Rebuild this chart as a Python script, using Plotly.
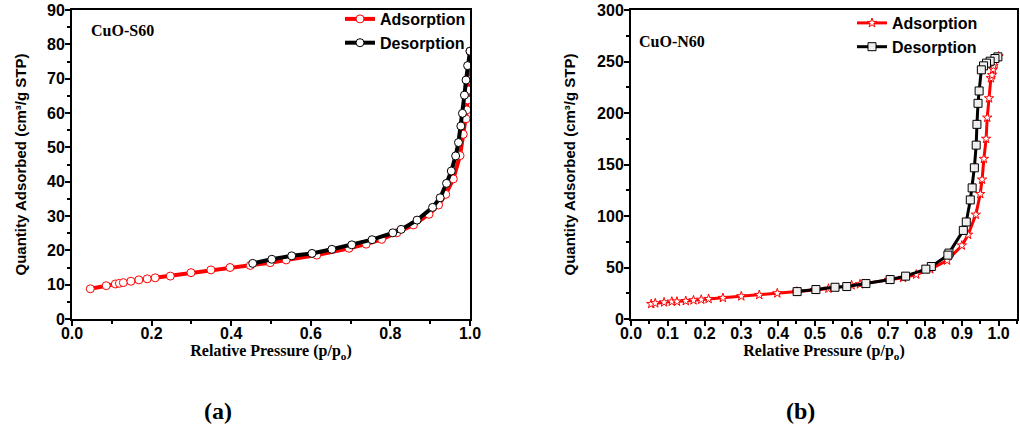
import plotly.graph_objects as go

# Panel (a) CuO-S60
s60_ads_x = [0.046, 0.086, 0.109, 0.119, 0.129, 0.148, 0.168, 0.189, 0.209, 0.247, 0.299, 0.349, 0.397,
             0.448, 0.498, 0.538, 0.615, 0.696, 0.739, 0.778, 0.816, 0.858, 0.897, 0.921, 0.939, 0.958,
             0.975, 0.983, 0.990, 0.992, 0.994, 0.997, 0.998, 1.0]
s60_ads_y = [8.8, 9.7, 10.2, 10.4, 10.6, 11.0, 11.4, 11.7, 12.0, 12.5, 13.5, 14.3, 15.0,
             15.6, 16.4, 17.2, 18.6, 20.6, 21.8, 23.2, 25.1, 27.4, 30.5, 33.2, 36.3, 40.8,
             47.6, 53.8, 58.3, 60.9, 63.8, 66.7, 69.6, 78.0]
s60_des_x = [1.0, 0.994, 0.990, 0.986, 0.981, 0.977, 0.971, 0.964, 0.953, 0.941, 0.925, 0.906, 0.867,
             0.827, 0.806, 0.754, 0.703, 0.653, 0.603, 0.552, 0.502, 0.454]
s60_des_y = [78.0, 73.8, 69.6, 65.2, 59.9, 56.2, 51.4, 47.5, 43.1, 39.5, 35.3, 32.5, 28.8,
             26.1, 25.1, 23.1, 21.6, 20.3, 19.1, 18.4, 17.4, 16.2]

# Panel (b) CuO-N60
n60_ads_x = [0.055, 0.066, 0.090, 0.111, 0.125, 0.149, 0.170, 0.191, 0.211, 0.250, 0.300, 0.349, 0.398,
             0.451, 0.500, 0.537, 0.600, 0.623, 0.701, 0.740, 0.776, 0.814, 0.860, 0.900, 0.917, 0.938,
             0.950, 0.955, 0.960, 0.966, 0.969, 0.974, 0.979, 0.982, 0.985, 0.986, 0.989, 1.0]
n60_ads_y = [14.6, 15.3, 16.2, 16.9, 16.9, 17.5, 18.2, 18.8, 19.5, 20.5, 22.1, 23.4, 25.0,
             26.6, 28.2, 29.5, 32.8, 33.8, 38.0, 39.9, 43.2, 48.4, 56.8, 71.4, 81.8, 101.3,
             121.4, 135.4, 155.5, 175.0, 195.5, 214.3, 233.8, 236.7, 242.5, 245.8, 249.0, 254.9]
n60_des_x = [0.998, 0.990, 0.977, 0.967, 0.959, 0.953, 0.947, 0.944, 0.941, 0.939, 0.934, 0.928, 0.923,
             0.912, 0.904, 0.865, 0.862, 0.817, 0.802, 0.747, 0.705, 0.639, 0.587, 0.555, 0.503, 0.452]
n60_des_y = [254.5, 252.9, 250.3, 248.4, 245.8, 241.9, 221.4, 209.4, 189.0, 168.8, 146.8, 127.3, 115.6,
             94.2, 86.0, 64.0, 62.0, 51.0, 48.4, 41.6, 38.3, 34.4, 31.5, 30.8, 28.6, 26.6]

W, H = 1020, 433
def px(x): return x / W
def py(y): return 1 - y / H

SANS = "Liberation Sans, Arial, sans-serif"
SERIF = "Liberation Serif, Times New Roman, serif"

fig = go.Figure()
fig.add_trace(go.Scatter(x=s60_ads_x, y=s60_ads_y, mode="lines+markers", name="Adsorption",
                         line=dict(color="#ff0000", width=4),
                         marker=dict(symbol="circle", size=8, color="white", line=dict(color="#ff0000", width=1)),
                         xaxis="x", yaxis="y", legend="legend"))
fig.add_trace(go.Scatter(x=s60_des_x, y=s60_des_y, mode="lines+markers", name="Desorption",
                         line=dict(color="black", width=4),
                         marker=dict(symbol="circle", size=8, color="white", line=dict(color="black", width=1)),
                         xaxis="x", yaxis="y", legend="legend"))
fig.add_trace(go.Scatter(x=n60_ads_x, y=n60_ads_y, mode="lines+markers", name="Adsorption",
                         line=dict(color="#ff0000", width=3),
                         marker=dict(symbol="star", size=7, color="white", line=dict(color="#ff0000", width=1)),
                         xaxis="x2", yaxis="y2", legend="legend2"))
fig.add_trace(go.Scatter(x=n60_des_x, y=n60_des_y, mode="lines+markers", name="Desorption",
                         line=dict(color="black", width=3),
                         marker=dict(symbol="square", size=8, color="#eeeeee", line=dict(color="black", width=1)),
                         xaxis="x2", yaxis="y2", legend="legend2"))

tickfont = dict(family=SANS, size=16, color="black", weight="bold")
axcommon = dict(showline=True, linecolor="black", linewidth=2, mirror=True, ticks="outside",
                ticklen=5, tickwidth=1.5, tickcolor="black", showgrid=False, zeroline=False,
                tickfont=tickfont, automargin=False)

top, bottom = 10, 319
fig.update_layout(
    width=W, height=H, margin=dict(l=0, r=0, t=0, b=0),
    paper_bgcolor="white", plot_bgcolor="white",
    xaxis=dict(domain=[px(72), px(470)], range=[0, 1], dtick=0.2, tickformat=".1f", anchor="y",
               minor=dict(ticks="outside", dtick=0.1, ticklen=3, tickcolor="black"),
               ticklabelstandoff=-6,
               title=dict(text="Relative Pressure (p/p<sub>o</sub>)", standoff=0,
                          font=dict(family=SERIF, size=16, color="black", weight="bold")),
               **axcommon),
    yaxis=dict(domain=[py(bottom), py(top)], range=[0, 90], dtick=10, anchor="x",
               minor=dict(ticks="outside", dtick=5, ticklen=3, tickcolor="black"),
               ticklabelstandoff=-3,
               title=dict(text="Quantity Adsorbed (cm³/g STP)", standoff=17,
                          font=dict(family=SANS, size=15, color="black", weight="bold")),
               **axcommon),
    xaxis2=dict(domain=[px(631), px(1017)], range=[0, 1.05], dtick=0.1, tickformat=".1f", anchor="y2",
                minor=dict(ticks="outside", dtick=0.05, ticklen=3, tickcolor="black"),
                ticklabelstandoff=-6,
                title=dict(text="Relative Pressure (p/p<sub>o</sub>)", standoff=0,
                           font=dict(family=SERIF, size=16, color="black", weight="bold")),
                **axcommon),
    yaxis2=dict(domain=[py(bottom), py(top)], range=[0, 300], dtick=50, anchor="x2",
                minor=dict(ticks="outside", dtick=25, ticklen=3, tickcolor="black"),
                ticklabelstandoff=-3,
                title=dict(text="Quantity Adsorbed (cm³/g STP)", standoff=18,
                           font=dict(family=SANS, size=15, color="black", weight="bold")),
                **axcommon),
    legend=dict(x=px(340), y=py(2), xanchor="left", yanchor="top", bgcolor="rgba(0,0,0,0)",
                font=dict(family=SANS, size=16, color="black", weight="bold"),
                tracegroupgap=0, itemwidth=30),
    legend2=dict(x=px(852), y=py(6), xanchor="left", yanchor="top", bgcolor="rgba(0,0,0,0)",
                 font=dict(family=SANS, size=16, color="black", weight="bold"),
                 tracegroupgap=0, itemwidth=30),
    showlegend=True,
)

fig.add_annotation(text="CuO-S60", x=px(89), y=py(31), xref="paper", yref="paper",
                   xanchor="left", yanchor="middle", showarrow=False,
                   font=dict(family=SERIF, size=16, color="black", weight="bold"))
fig.add_annotation(text="CuO-N60", x=px(637), y=py(42), xref="paper", yref="paper",
                   xanchor="left", yanchor="middle", showarrow=False,
                   font=dict(family=SERIF, size=16, color="black", weight="bold"))
fig.add_annotation(text="(a)", x=px(218), y=py(411), xref="paper", yref="paper",
                   xanchor="center", yanchor="middle", showarrow=False,
                   font=dict(family=SERIF, size=24, color="black", weight="bold"))
fig.add_annotation(text="(b)", x=px(800), y=py(411), xref="paper", yref="paper",
                   xanchor="center", yanchor="middle", showarrow=False,
                   font=dict(family=SERIF, size=24, color="black", weight="bold"))

fig.write_html("out.html")
